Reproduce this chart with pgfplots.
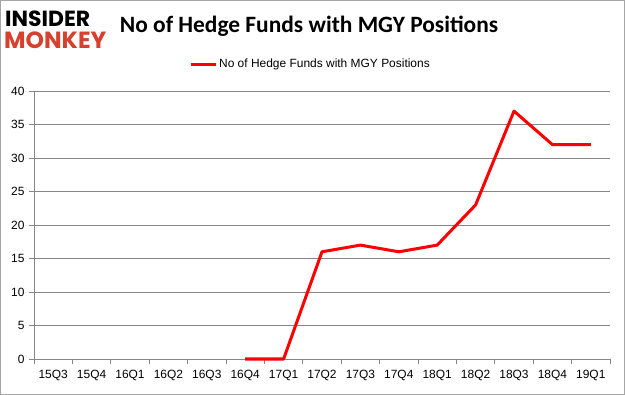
\documentclass[border=0pt]{standalone}
\usepackage{pgfplots}
\pgfplotsset{compat=1.18}
\usepackage{fontspec}
\setmainfont{Liberation Sans}
\newfontfamily\titlefont{Carlito}
\newfontfamily\logofont{Poppins}
\definecolor{gridgray}{RGB}{134,134,134}
\definecolor{logored}{RGB}{214,64,44}
\begin{document}
\begin{tikzpicture}
\useasboundingbox (0bp,0bp) rectangle (625bp,395bp);
\draw[gray!70, line width=1bp] (0.5bp,0.5bp) rectangle (624.5bp,394.5bp);
% logo
\node[anchor=west, inner sep=0, font=\logofont\bfseries\fontsize{22}{22}\selectfont, text=black] at (5bp,376bp) {INSIDER};
\node[anchor=west, inner sep=0, font=\logofont\bfseries\fontsize{23.5}{23.5}\selectfont, text=logored] at (4bp,355bp) {MONKEY};
% title
\node[font=\titlefont\bfseries\fontsize{23.5}{23.5}\selectfont] at (309bp,369bp) {No of Hedge Funds with MGY Positions};
\begin{axis}[
  at={(34bp,36bp)}, anchor=south west,
  scale only axis, width=576bp, height=268bp,
  xmin=-0.5, xmax=14.5, ymin=0, ymax=40,
  axis lines*=left,
  axis line style={gridgray},
  xtick={0,...,14},
  xticklabels={15Q3,15Q4,16Q1,16Q2,16Q3,16Q4,17Q1,17Q2,17Q3,17Q4,18Q1,18Q2,18Q3,18Q4,19Q1},
  minor xtick={-0.5,0.5,...,14.5},
  major x tick style={draw=none},
  minor x tick style={gridgray, line width=0.8bp},
  ytick={0,5,...,40},
  y tick style={gridgray, line width=0.8bp},
  tick align=outside,
  major tick length=5bp, minor tick length=5bp,
  ymajorgrids, grid style={gridgray, line width=0.8bp},
  tick label style={font=\fontsize{12}{12}\selectfont, text=black},
  xticklabel style={yshift=-3bp},
  yticklabel style={xshift=-1bp},
  legend style={at={(0.48,1.1)}, anchor=center, draw=none, fill=none, font=\fontsize{12}{12}\selectfont, legend cell align=left},
  legend image code/.code={\draw[#1] (0bp,0bp) -- (25bp,0bp);},
  /pgf/number format/assume math mode=true,
  clip=false,
]
\addplot[red, line width=3bp, line join=round] coordinates {
(5,0) (6,0) (7,16) (8,17) (9,16) (10,17) (11,23) (12,37) (13,32) (14,32)
};
\addlegendentry{No of Hedge Funds with MGY Positions}
\end{axis}
\end{tikzpicture}
\end{document}
